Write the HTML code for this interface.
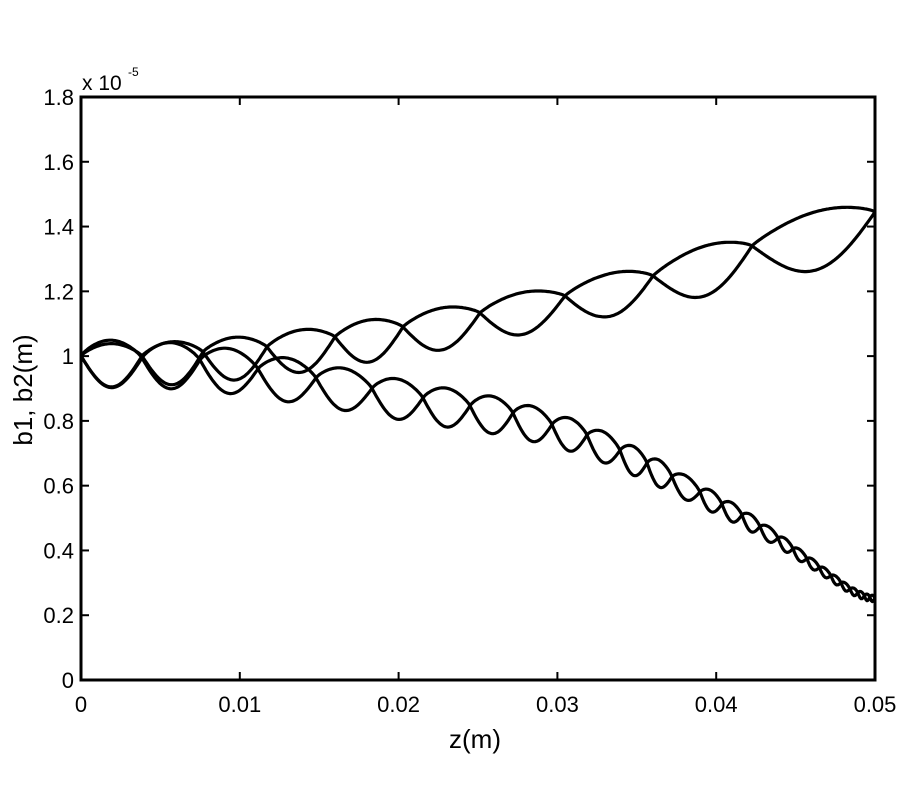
<!DOCTYPE html>
<html><head><meta charset="utf-8"><style>
body{margin:0;background:#fff;}
svg text{font-family:"Liberation Sans",Arial,sans-serif;fill:#000;}
</style></head><body>
<svg id="s" width="900" height="800" xmlns="http://www.w3.org/2000/svg">
<rect width="900" height="800" fill="#fff"/>
<g id="ticks" stroke="#000" stroke-width="2"></g>
<g id="curves" fill="none" stroke="#000" stroke-width="3.2" stroke-linejoin="round"></g>
<rect x="81" y="97" width="794" height="583" fill="none" stroke="#000" stroke-width="3"/>
<g id="labels" font-size="22"></g>
<text x="82" y="90" font-size="21">x 10</text>
<text x="128" y="76" font-size="12">-5</text>
<text x="475" y="748" font-size="26" text-anchor="middle">z(m)</text>
<text transform="translate(32,390) rotate(-90)" font-size="26" text-anchor="middle">b1, b2(m)</text>
</svg>
<script>
var NS="http://www.w3.org/2000/svg";
var L=81,R=875,T=97,B=680;
var tk=document.getElementById('ticks'),lb=document.getElementById('labels');
function add(p,tag,a,txt){var e=document.createElementNS(NS,tag);for(var k in a)e.setAttribute(k,a[k]);if(txt!=null)e.textContent=txt;p.appendChild(e);}
for(var i=0;i<=9;i++){var y=B-i*(B-T)/9;
 add(tk,'line',{x1:L,y1:y,x2:L+8,y2:y});add(tk,'line',{x1:R,y1:y,x2:R-8,y2:y});
 var v=(i*0.2).toFixed(1);if(i==0)v='0';if(i==5)v='1';
 add(lb,'text',{x:74,y:y+8,'text-anchor':'end'},v);}
for(var i=0;i<=5;i++){var x=L+i*(R-L)/5;
 add(tk,'line',{x1:x,y1:B,x2:x,y2:B-8});add(tk,'line',{x1:x,y1:T,x2:x,y2:T+8});
 add(lb,'text',{x:x,y:712,'text-anchor':'middle'},i==0?'0':(i*0.01).toFixed(2));}
function interp(pts,x){for(var i=0;i<pts.length-1;i++){if(x<=pts[i+1][0]){var t=(x-pts[i][0])/(pts[i+1][0]-pts[i][0]);return pts[i][1]+t*(pts[i+1][1]-pts[i][1]);}}return pts[pts.length-1][1];}
function pair(X,Yf,Df,bump){
 var a=[],b=[];
 for(var k=0;k<X.length-1;k++){var x0=X[k],x1=X[k+1];var n=Math.max(6,Math.round((x1-x0)/1.5));
  for(var j=0;j<(k==X.length-2?n+1:n);j++){var t=j/n;var x=x0+t*(x1-x0);var base=Yf(x);var D=Df(x);var s=Math.sin(Math.PI*t);
   var dip=base+D*s, up=base-bump*D*Math.pow(s,0.8);
   if(k%2==0){a.push([x,dip]);b.push([x,up]);}else{a.push([x,up]);b.push([x,dip]);}}}
 return [a,b];}
function draw(p){var g=document.getElementById('curves');var d='M'+p.map(function(q){return q[0].toFixed(1)+','+q[1].toFixed(1);}).join('L');add(g,'path',{d:d});}
var Xu=[81,142,203,267,335,403,480,565,653,752,875];
var Yu=[[81,356],[142,356],[203,352],[267,347],[335,337],[403,327],[480,313],[565,296],[653,276],[752,246],[875,212]];
var up=pair(Xu,function(x){return interp(Yu,x);},function(x){return interp([[81,31],[400,30],[600,30],[875,45]],x);},0.4);
draw(up[0]);draw(up[1]);
var Xl=[81,142,200,258,316,372,423,470,513,552,587,620,647,672,700,722,742,760,778];
var sp=15;while(Xl[Xl.length-1]<875){var nx=Xl[Xl.length-1]+sp;if(nx>875-3)nx=875;Xl.push(nx);sp=Math.max(4,sp-1.2);}
var Yl=[[81,356],[200,360],[316,378],[423,398],[513,413],[587,435],[647,463],[700,492],[742,515],[778,538],[820,568],[850,589],[865,596],[875,598]];
var lo=pair(Xl,function(x){return interp(Yl,x);},function(x){return interp([[81,31],[300,28],[500,24],[650,18],[750,11],[820,6],[875,4]],x);},0.55);
draw(lo[0]);draw(lo[1]);
</script>
</body></html>
